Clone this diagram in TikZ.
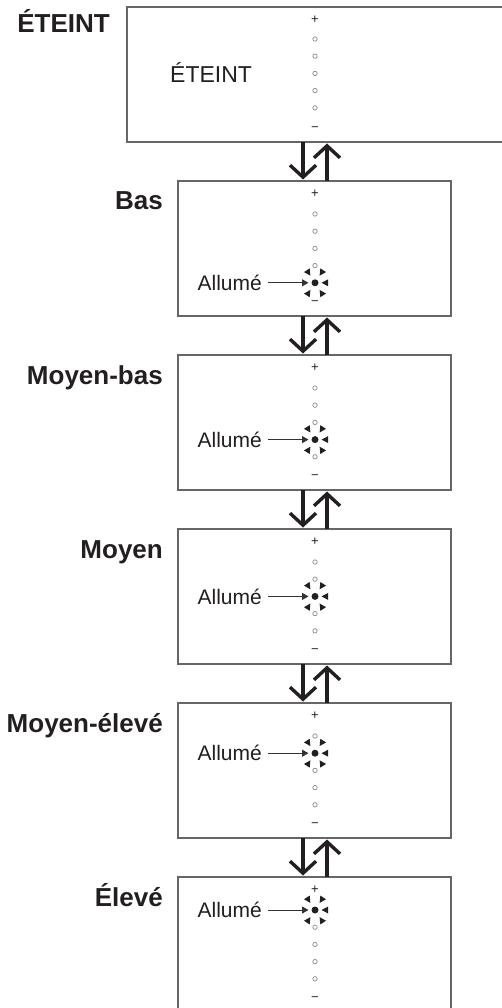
\documentclass[tikz,border=0pt]{standalone}
\usepackage{fontspec}
\setmainfont{Liberation Sans}
\usetikzlibrary{arrows.meta}
\definecolor{txt}{HTML}{231F20}
\definecolor{boxgray}{HTML}{666666}
\definecolor{dotgray}{HTML}{8C8C8C}
\definecolor{ptrgray}{HTML}{333333}
\newcommand{\sunat}[1]{%
  \fill[txt] (#1) circle (3.5);
  \foreach \a/\d in {0/6.5,57/8.5,123/8.5,237/8.5,303/8.5}{
    \fill[txt, shift={(#1)}, rotate=\a] (\d,0) -- (\d+6.5,3.4) -- (\d+6.5,-3.4) -- cycle;
  }}
\begin{document}
\begin{tikzpicture}[x=1pt,y=-1pt,
  box/.style={draw=boxgray, line width=1.4pt, minimum height=135pt, anchor=north west, inner sep=0, outer sep=0},
  lab/.style={font=\fontsize{26}{30}\selectfont\bfseries, text=txt, anchor=base east, inner sep=0},
  allume/.style={font=\fontsize{21}{25}\selectfont, text=txt, anchor=east, inner sep=0},
  posc/.style={draw=dotgray, line width=0.7pt},
  pm/.style={font=\fontsize{13}{14}\selectfont, text=txt, inner sep=0},
  ud/.style={line width=3.4pt, draw=txt, shorten >=1.5pt, -{Straight Barb[length=12pt,width=26pt,line width=3.4pt]}},
  ptr/.style={line width=1pt, draw=ptrgray, -{Triangle[length=6.5pt,width=7pt]}, shorten <=6pt, shorten >=6.5pt},
]
\clip (0,0) rectangle (502,1008);
\fill[white] (0,0) rectangle (502,1008);
\coordinate (dnx) at (303,0);
\coordinate (upx) at (327,0);
% box 0 (OFF)
\node[box, minimum width=433pt] (b0) at (127,7) {};
\node[lab, anchor=base east] (l0) at (110,33) {ÉTEINT};
\node[font=\fontsize{23}{27}\selectfont, text=txt, anchor=base west, inner sep=0] (t0) at (170,83) {ÉTEINT};
\node[pm] (p0) at (315,19.5) {+};
\foreach \k in {0,...,4}{ \draw[posc] (315,{39+17.2*\k}) circle (2.2); }
\node[pm] (m0) at (315,129) {−};
% boxes 1..5
\foreach \i/\name/\s in {1/Bas/4, 2/Moyen-bas/3, 3/Moyen/2, 4/Moyen-élevé/1, 5/Élevé/0}{
  \pgfmathsetmacro{\T}{7+174*\i}
  \node[box, minimum width=273pt] (b\i) at (178,\T) {};
  \node[lab] (l\i) at (163,\T+29) {\name};
  \node[pm] (p\i) at (315,\T+12.5) {+};
  \node[pm] (m\i) at (315,\T+122) {−};
  \foreach \k in {0,...,4}{
    \ifnum\k=\s\relax
      \coordinate (s\i) at (315,{\T+33+17.2*\k});
    \else
      \draw[posc] (315,{\T+33+17.2*\k}) circle (2.2);
    \fi
  }
  \sunat{s\i}
  \node[allume] (a\i) at (s\i -| 262,0) {Allumé};
  \draw[ptr] (a\i.east) -- (s\i);
}
% up/down arrows between boxes
\foreach \i [evaluate=\i as \j using int(\i+1)] in {0,...,4}{
  \draw[ud] (dnx |- b\i.south) -- (dnx |- b\j.north);
  \draw[ud] (upx |- b\j.north) -- (upx |- b\i.south);
}
\end{tikzpicture}
\end{document}
